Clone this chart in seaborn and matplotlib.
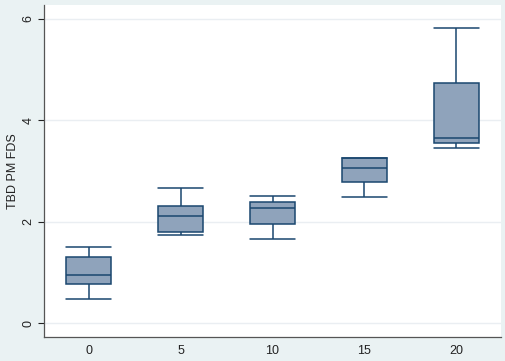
import numpy as np
import pandas as pd
import matplotlib
matplotlib.use("Agg")
import matplotlib.pyplot as plt
import seaborn as sns

groups = ["0", "5", "10", "15", "20"]
# five-number summaries: min, Q1, median, Q3, max
g0 = [0.47, 0.76, 0.95, 1.31, 1.50]
g5 = [1.73, 1.79, 2.11, 2.31, 2.66]
g10 = [1.66, 1.95, 2.27, 2.39, 2.50]
g15 = [2.48, 2.78, 3.05, 3.26, 3.26]
g20 = [3.46, 3.54, 3.65, 4.74, 5.81]
y_label = "TBD PM FDS"
y_ticks = [0, 2, 4, 6]

df = pd.DataFrame({
    "grp": np.repeat(groups, 5),
    "val": g0 + g5 + g10 + g15 + g20,
})

sns.set_style("white")
plt.rcParams["font.family"] = ["Liberation Sans", "DejaVu Sans"]

bg = "#eaf2f3"
fig = plt.figure(figsize=(5.05, 3.61), dpi=100, facecolor=bg)
ax = fig.add_axes([44 / 505, 1 - 337 / 361, (501 - 44) / 505, (337 - 5) / 361])
ax.set_facecolor("white")

edge = "#1a476f"
fill = "#8fa3bb"
sns.boxplot(data=df, x="grp", y="val", order=groups, ax=ax, whis=np.inf,
            width=0.49, color=fill, saturation=1, linewidth=1.1,
            linecolor=edge,
            boxprops=dict(facecolor=fill, edgecolor=edge),
            whiskerprops=dict(color=edge), capprops=dict(color=edge),
            medianprops=dict(color=edge), capwidths=0.49)

ax.set_xlim(-0.49, 4.49)
ax.set_ylim(-0.276, 6.27)
ax.set_yticks(y_ticks)
ax.set_yticklabels([str(t) for t in y_ticks], rotation=90, va="center")
for t in y_ticks:
    ax.axhline(t, color="#eaeef2", lw=1, zorder=0)
ax.set_xlabel("")
ax.set_ylabel(y_label, fontsize=9, color="#222222", labelpad=2.5)
ax.tick_params(axis="y", labelsize=9, colors="#222222", length=4,
               width=0.8, direction="out", left=True, pad=3)
ax.tick_params(axis="x", labelsize=9, colors="#222222", length=0,
               bottom=True, pad=6)
for s in ["top", "right"]:
    ax.spines[s].set_visible(False)
for s in ["left", "bottom"]:
    ax.spines[s].set_color("#555555")
    ax.spines[s].set_linewidth(0.9)

fig.savefig("out.png", dpi=100, facecolor=bg)
